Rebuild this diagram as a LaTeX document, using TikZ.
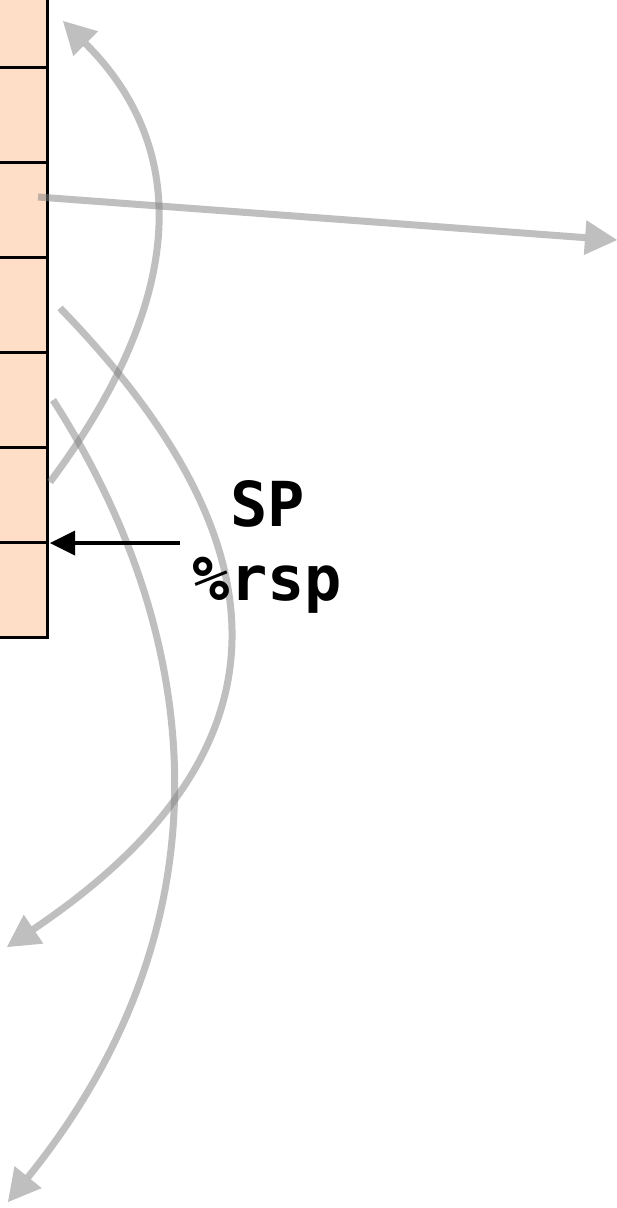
\documentclass[tikz,border=0pt]{standalone}
\usepackage{fontspec}
\newfontfamily\stackmono{DejaVu Sans Mono}
\usetikzlibrary{arrows.meta}
\definecolor{cellfill}{RGB}{255,222,200}
\begin{document}
\begin{tikzpicture}[x=1pt,y=-1pt,
  cell/.style={fill=cellfill, draw=black, line width=2.5pt},
  flow/.style={draw=gray, color=gray, line width=7pt, opacity=0.5,
    -{Triangle[length=32pt,width=35pt,line width=0pt]}},
  pointer/.style={draw=black, line width=4pt,
    -{Triangle[length=25pt,width=25pt,line width=0pt]}},
  lbl/.style={font=\stackmono\bfseries\fontsize{62}{73}\selectfont,
    inner sep=0pt, anchor=base}]
\useasboundingbox (0,0) rectangle (617,1208);
\fill[white] (0,0) rectangle (617,1208);
% stack cells
\draw[cell] (-10,-10) rectangle (47.5,67.5);
\foreach \i in {0,...,5}
  \draw[cell] (-10,{67.5+95*\i}) rectangle (47.5,{162.5+95*\i});
% endpoints
\coordinate (a1s) at (50,482);
\coordinate (a1e) at (63,21);
\coordinate (a2s) at (38,197);
\coordinate (a2e) at (617,240);
\coordinate (a3s) at (60,308);
\coordinate (a3e) at (7,947);
\coordinate (a4s) at (53,400);
\coordinate (a4e) at (8,1202);
\coordinate (ps) at (180,543);
\coordinate (pe) at (50,543);
% gray flow arrows
\draw[flow] (a1s) .. controls (183,304) and (194,152) .. (a1e);
\draw[flow] (a2s) -- (a2e);
\draw[flow] (a3s) .. controls (298,553) and (289,757) .. (a3e);
\draw[flow] (a4s) .. controls (204,635) and (234.8,921) .. (a4e);
% stack pointer
\draw[pointer] (ps) -- (pe);
\node[lbl] (sp) at (267.5,526.5) {SP};
\node[lbl] (rsp) at (267.5,600) {\%rsp};
\end{tikzpicture}
\end{document}
